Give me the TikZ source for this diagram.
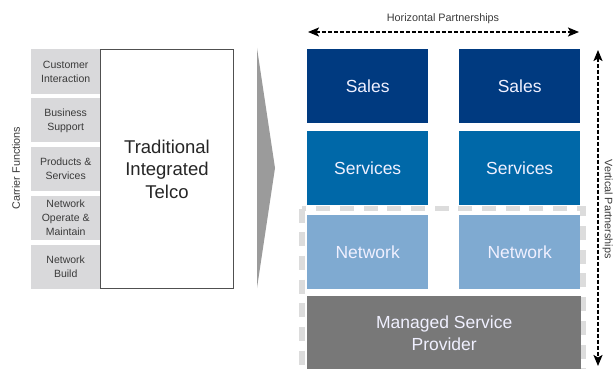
\documentclass[tikz,border=0pt]{standalone}
\usepackage{fontspec}
\setmainfont{Liberation Sans}
\usetikzlibrary{arrows.meta}
\definecolor{salesblue}{HTML}{003A80}
\definecolor{serviceblue}{HTML}{0068A8}
\definecolor{netblue}{HTML}{7FAAD1}
\definecolor{mspgray}{HTML}{787878}
\definecolor{funcgray}{HTML}{D9D9DB}
\definecolor{dashgray}{HTML}{DCDCDC}
\definecolor{chevgray}{HTML}{9B9B9B}
\definecolor{textgray}{HTML}{3A3A3A}
\definecolor{boxline}{HTML}{505050}
\begin{document}
\begin{tikzpicture}[x=1pt,y=-1pt,
  func/.style={anchor=north west, fill=funcgray, minimum width=69pt, minimum height=44.4pt,
    inner sep=0pt, align=center, text=textgray, font=\fontsize{10.5}{14}\selectfont},
  block/.style={anchor=north west, minimum width=121pt, minimum height=74pt, inner sep=0pt,
    align=center, text=white!94!blue, font=\fontsize{17.5}{22}\selectfont},
  caption/.style={text=textgray, font=\fontsize{10.8}{12}\selectfont, inner sep=0pt},
  partner/.style={line width=1.8pt, dash pattern=on 3.6pt off 2.4pt,
    {Stealth[length=11pt,width=9pt,inset=2.5pt]}-{Stealth[length=11pt,width=9pt,inset=2.5pt]}}
]
\useasboundingbox (0,0) rectangle (614,369);

% carrier functions column
\node[caption, rotate=90] (cf) at (16,168) {Carrier Functions};
\node[func] (f1) at (31,49)    {Customer\\Interaction};
\node[func] (f2) at (31,97.9)  {Business\\Support};
\node[func] (f3) at (31,146.8) {Products \&\\Services};
\node[func] (f4) at (31,195.7) {Network\\Operate \&\\Maintain};
\node[func] (f5) at (31,244.6) {Network\\Build};

% integrated telco
\node[anchor=north west, draw=boxline, line width=1pt, fill=white, minimum width=133pt,
  minimum height=239pt, inner sep=0pt, align=center, text=black!85,
  font=\fontsize{18.5}{22.5}\selectfont] (telco) at (100,49) {Traditional\\Integrated\\Telco};

% transition chevron
\fill[chevgray] (257,48) -- (275,168) -- (257,288) -- cycle;

% network partnership frame
\draw[dashgray, line width=5.5pt, dash pattern=on 14pt off 9.7pt]
  (302,208.5) rectangle (583,380);

% partner stacks
\node[block, fill=salesblue]   (s1) at (307,49)  {Sales};
\node[block, fill=salesblue]   (s2) at (459,49)  {Sales};
\node[block, fill=serviceblue] (v1) at (307,131) {Services};
\node[block, fill=serviceblue] (v2) at (459,131) {Services};
\node[block, fill=netblue]     (n1) at (307,215) {Network};
\node[block, fill=netblue]     (n2) at (459,215) {Network};
\node[block, fill=mspgray, minimum width=274pt] (msp) at (307,296) {Managed Service\\Provider};

% partnership arrows
\coordinate (hl) at (308,32);
\coordinate (hr) at (579,32);
\coordinate (vt) at (598,50);
\coordinate (vb) at (598,366);
\draw[partner] (hl) -- (hr);
\draw[partner] (vt) -- (vb);
\node[caption] (hp) at (443,19) {Horizontal Partnerships};
\node[caption, rotate=-90, anchor=south] (vp) at (602.5,209) {Vertical Partnerships};
\end{tikzpicture}
\end{document}
